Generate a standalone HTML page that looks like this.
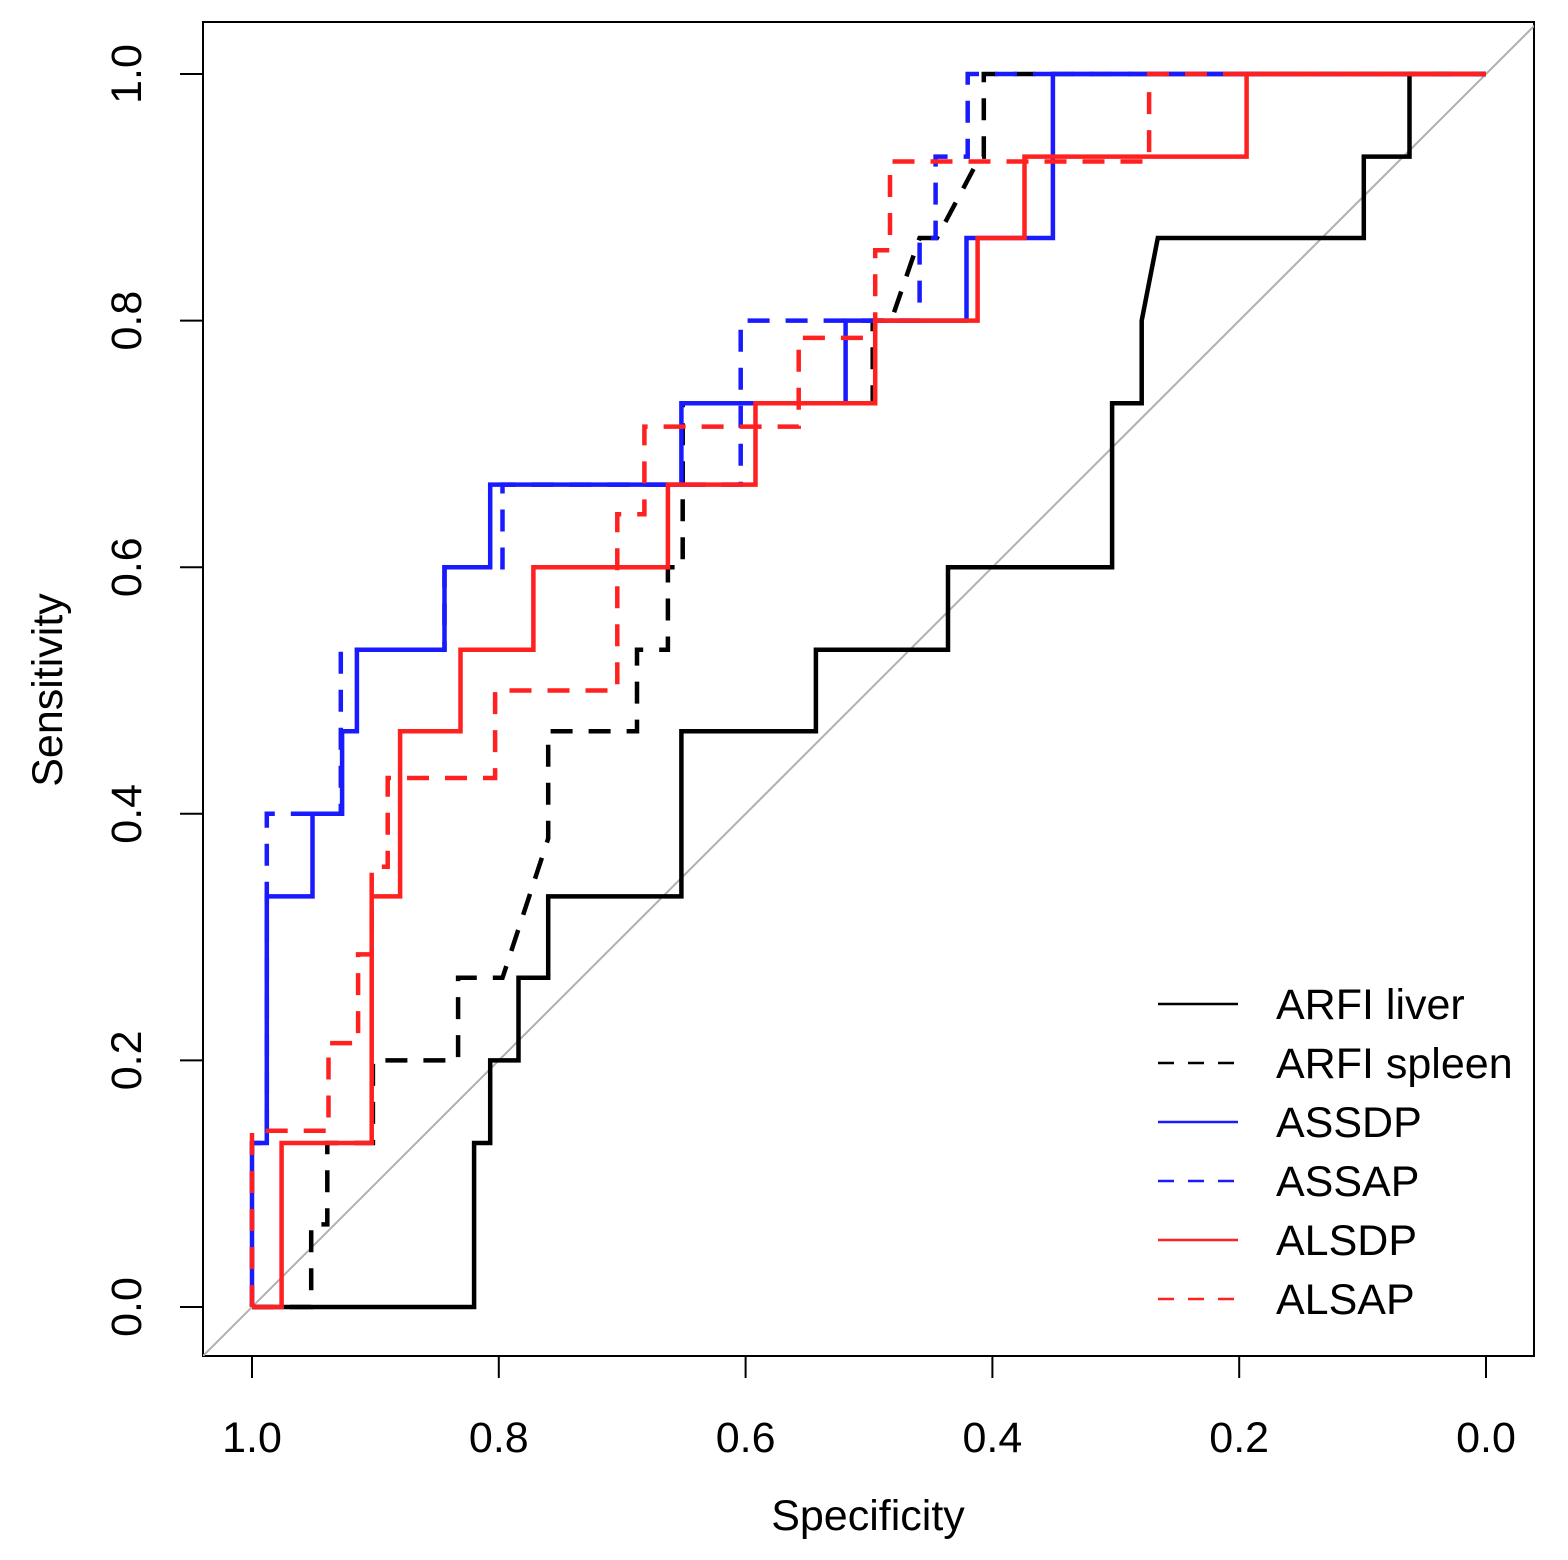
<!DOCTYPE html>
<html><head><meta charset="utf-8"><style>
html,body{margin:0;padding:0;background:#fff}
svg{display:block;font-family:"Liberation Sans",sans-serif}
</style></head><body>
<svg id="chart" width="1568" height="1560" viewBox="0 0 1568 1560" xmlns="http://www.w3.org/2000/svg">
<defs><clipPath id="plotclip"><rect x="203" y="22" width="1331" height="1334"/></clipPath></defs>
<g id="axes"></g>
<g id="series" clip-path="url(#plotclip)"></g>
<g id="legend"></g>
</svg>
<script>
const xTicks = [1.0, 0.8, 0.6, 0.4, 0.2, 0.0];
const xTickLabels = ["1.0", "0.8", "0.6", "0.4", "0.2", "0.0"];
const yTicks = [0.0, 0.2, 0.4, 0.6, 0.8, 1.0];
const yTickLabels = ["0.0", "0.2", "0.4", "0.6", "0.8", "1.0"];
const seriesNames = ["ARFI liver", "ARFI spleen", "ASSDP", "ASSAP", "ALSDP", "ALSAP"];
const arfiLiverSpec = [1,.82,.82,.807,.807,.784,.784,.76,.76,.652,.652,.543,.543,.436,.436,.303,.303,.279,.279,.266,.099,.099,.062,.062,0];
const arfiLiverSens = [0,0,.133,.133,.2,.2,.267,.267,.333,.333,.467,.467,.533,.533,.6,.6,.733,.733,.8,.867,.867,.933,.933,1,1];
const arfiSpleenSpec = [1,.952,.952,.939,.939,.902,.902,.833,.833,.797,.76,.76,.688,.688,.663,.663,.651,.651,.497,.497,.482,.459,.445,.41,.407,.407,0];
const arfiSpleenSens = [0,0,.067,.067,.133,.133,.2,.2,.267,.267,.38,.467,.467,.533,.533,.6,.6,.733,.733,.8,.8,.867,.867,.933,.933,1,1];
const assdpSpec = [1,1,.988,.988,.951,.951,.927,.927,.915,.915,.844,.844,.807,.807,.652,.652,.519,.519,.421,.421,.351,.351,0];
const assdpSens = [0,.133,.133,.333,.333,.4,.4,.467,.467,.533,.533,.6,.6,.667,.667,.733,.733,.8,.8,.867,.867,1,1];
const assapSpec = [1,1,.988,.988,.928,.928,.844,.844,.797,.797,.604,.604,.459,.459,.446,.446,.42,.42,0];
const assapSens = [0,.133,.133,.4,.4,.533,.533,.6,.6,.667,.667,.8,.8,.867,.867,.933,.933,1,1];
const alsdpSpec = [1,.976,.976,.903,.903,.88,.88,.831,.831,.772,.772,.663,.663,.592,.592,.495,.495,.412,.412,.374,.374,.194,.194,0];
const alsdpSens = [0,0,.133,.133,.333,.333,.467,.467,.533,.533,.6,.6,.667,.667,.733,.733,.8,.8,.867,.867,.933,.933,1,1];
const alsapSpec = [1,1,.938,.938,.914,.914,.903,.903,.89,.89,.803,.803,.704,.704,.682,.682,.557,.557,.495,.495,.483,.483,.273,.273,0];
const alsapSens = [0,.143,.143,.214,.214,.286,.286,.357,.357,.429,.429,.5,.5,.643,.643,.714,.714,.786,.786,.857,.857,.929,.929,1,1];

const NS = "http://www.w3.org/2000/svg";
function xs(spec){ return 252 + (1 - spec) * 1234; }
function ys(sens){ return 1307 - sens * 1233; }
function mk(tag, attrs, parent){
  const e = document.createElementNS(NS, tag);
  for (const k in attrs) e.setAttribute(k, attrs[k]);
  parent.appendChild(e); return e;
}
const axes = document.getElementById('axes');
const series = document.getElementById('series');
const legend = document.getElementById('legend');
const FS = 43;

const box = mk('rect', {x:203, y:22, width:1331, height:1334, fill:'none', stroke:'#000', 'stroke-width':2}, axes);



xTicks.forEach((v, i) => {
  const t = mk('line', {x1:xs(v), x2:xs(v), y1:1356, y2:1378, stroke:'#000', 'stroke-width':2}, axes);
  
  
  const l = mk('text', {x:xs(v), y:1452, 'text-anchor':'middle', 'font-size':FS, fill:'#000'}, axes);
  l.textContent = xTickLabels[i];
  
  
});
yTicks.forEach((v, i) => {
  const t = mk('line', {x1:180, x2:203, y1:ys(v), y2:ys(v), stroke:'#000', 'stroke-width':2}, axes);
  
  
  const l = mk('text', {x:0, y:0, transform:`translate(141,${ys(v)}) rotate(-90)`, 'text-anchor':'middle', 'font-size':FS, fill:'#000'}, axes);
  l.textContent = yTickLabels[i];
  
  
});
const xt = mk('text', {x:868, y:1530, 'text-anchor':'middle', 'font-size':FS, fill:'#000'}, axes);
xt.textContent = 'Specificity';


const yt = mk('text', {x:0, y:0, transform:'translate(62,690) rotate(-90)', 'text-anchor':'middle', 'font-size':FS, fill:'#000'}, axes);
yt.textContent = 'Sensitivity';



const diag = mk('line', {x1:xs(1.05), y1:ys(-0.05), x2:xs(-0.05), y2:ys(1.05), stroke:'#b0b0b0', 'stroke-width':2}, series);



const styles = [
  {c:'#000', d:null, s:arfiLiverSpec, v:arfiLiverSens, n:'arfi-liver-curve'},
  {c:'#000', d:'22 16', s:arfiSpleenSpec, v:arfiSpleenSens, n:'arfi-spleen-curve'},
  {c:'#1a1aff', d:null, s:assdpSpec, v:assdpSens, n:'assdp-curve'},
  {c:'#1a1aff', d:'22 16', s:assapSpec, v:assapSens, n:'assap-curve'},
  {c:'#ff2020', d:null, s:alsdpSpec, v:alsdpSens, n:'alsdp-curve'},
  {c:'#ff2020', d:'22 16', s:alsapSpec, v:alsapSens, n:'alsap-curve'}
];
styles.forEach(st => {
  const pts = st.s.map((s, i) => xs(s).toFixed(1) + ',' + ys(st.v[i]).toFixed(1)).join(' ');
  const a = {points:pts, fill:'none', stroke:st.c, 'stroke-width':4.5, 'stroke-linejoin':'miter'};
  if (st.d) a['stroke-dasharray'] = st.d;
  const p = mk('polyline', a, series);
  
  
});

const legY = [1004, 1063, 1122, 1181, 1240, 1299];
styles.forEach((st, i) => {
  const a = {x1:1158, x2:1238, y1:legY[i], y2:legY[i], stroke:st.c, 'stroke-width':2.5};
  if (st.d) a['stroke-dasharray'] = '16 14';
  const l = mk('line', a, legend);
  
  
  const t = mk('text', {x:1276, y:legY[i] + 15, 'font-size':FS, fill:'#000'}, legend);
  t.textContent = seriesNames[i];
  
  
});
</script>
</body></html>
